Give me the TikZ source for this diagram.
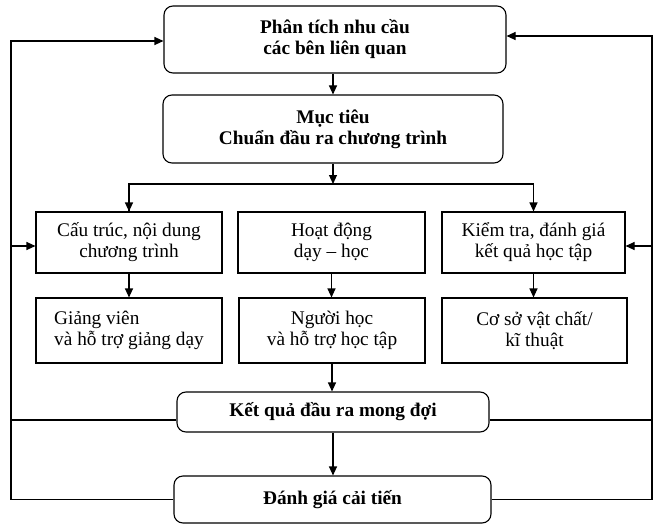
\documentclass[tikz,border=0pt]{standalone}
\usepackage{fontspec}
\setmainfont{Liberation Serif}
\usetikzlibrary{arrows.meta}
\begin{document}
\begin{tikzpicture}[x=1pt,y=-1pt,
  every node/.style={font=\fontsize{19.3}{21}\selectfont, align=center, inner sep=0pt, line width=1.1pt},
  rbox/.style={draw, rounded corners=9pt, font=\fontsize{19.3}{21}\selectfont\bfseries},
  sbox/.style={draw},
  arr/.style={-{Triangle[length=9pt,width=8pt]}, line width=1.1pt},
  ln/.style={line width=1.1pt}]
\useasboundingbox (0,0) rectangle (658,524);
% nodes
\node[rbox, minimum width=342, minimum height=67] (p1) at (335,39.5) {Phân tích nhu cầu\\các bên liên quan};
\node[rbox, minimum width=340, minimum height=68] (m) at (333,129) {Mục tiêu\\Chuẩn đầu ra chương trình};
\node[sbox, minimum width=186, minimum height=61] (A) at (129,242.5) {Cấu trúc, nội dung\\chương trình};
\node[sbox, minimum width=187, minimum height=61] (B) at (331.5,242.5) {Hoạt động\\dạy – học};
\node[sbox, minimum width=183, minimum height=61] (C) at (533.5,242.5) {Kiểm tra, đánh giá\\kết quả học tập};
\node[sbox, minimum width=186, minimum height=65, align=left] (D) at (129,330.5) {Giảng viên\\và hỗ trợ giảng dạy};
\node[sbox, minimum width=186, minimum height=65] (E) at (332,330.5) {Người học\\và hỗ trợ học tập};
\node[sbox, minimum width=185, minimum height=65] (F) at (534.5,330.5) {Cơ sở vật chất/\\kĩ thuật};
\node[rbox, minimum width=312, minimum height=40] (kq) at (333,412) {Kết quả đầu ra mong đợi};
\node[rbox, minimum width=317, minimum height=47] (dg) at (332.5,499.5) {Đánh giá cải tiến};
% helper coordinates
\coordinate (lx) at (11,0);
\coordinate (rx) at (652,0);
\coordinate (br) at (333,184);
\coordinate (p1w) at ([yshift=-1.5pt]p1.west);
\coordinate (p1e) at ([yshift=3.5pt]p1.east);
\coordinate (kqw) at ([yshift=-8pt]kq.west);
\coordinate (kqe) at ([yshift=-8pt]kq.east);
\coordinate (Aw) at ([yshift=-3.5pt]A.west);
\coordinate (Ce) at ([yshift=-3.5pt]C.east);
% vertical flow
\draw[arr] (p1.south -| m.south) -- (m.north);
\draw[arr] (m.south) -- (m.south |- br);
\draw[ln] (br) -| (A.north);
\draw[ln] (br) -| (C.north);
\draw[arr] (A.north |- br) -- (A.north);
\draw[arr] (C.north |- br) -- (C.north);
\draw[arr] (A.south) -- (D.north);
\draw[arr] (B.south) -- (B.south |- E.north);
\draw[arr] (C.south) -- (C.south |- F.north);
\draw[arr] (E.south) -- (E.south |- kq.north);
\draw[arr] (kq.south) -- (kq.south |- dg.north);
% left feedback loop
\draw[arr] (dg.west) -| (lx |- p1w) -- (p1w);
\draw[ln] (kqw) -- (lx |- kqw);
\draw[arr] (lx |- Aw) -- (Aw);
% right feedback loop
\draw[arr] (dg.east) -| (rx |- p1e) -- (p1e);
\draw[ln] (kqe) -- (rx |- kqe);
\draw[arr] (rx |- Ce) -- (Ce);
\end{tikzpicture}
\end{document}
